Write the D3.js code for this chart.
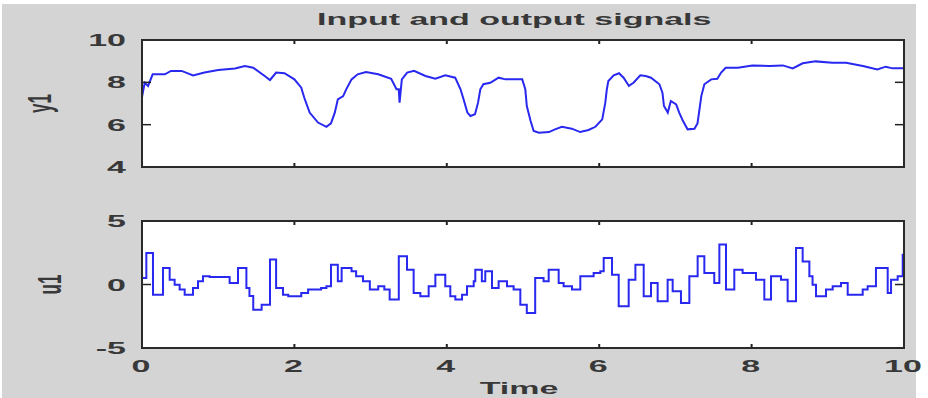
<!DOCTYPE html>
<html><head><meta charset="utf-8">
<script src="https://cdn.jsdelivr.net/npm/d3@7"></script>
<style>html,body{margin:0;padding:0;background:#fff;} svg{display:block;}</style>
</head><body><svg id="c" width="928" height="398"></svg>
<script>
// ---- data ----
const y1Time = [0,0.035,0.08,0.14,0.3,0.38,0.52,0.67,0.82,1.0,
  1.22,1.35,1.46,1.61,1.68,1.76,1.87,2.0,2.09,2.13,
  2.2,2.31,2.42,2.48,2.53,2.57,2.64,2.68,2.75,2.83,
  2.94,3.1,3.27,3.34,3.37,3.38,3.41,3.48,3.57,3.72,
  3.85,3.98,4.11,4.18,4.22,4.27,4.31,4.37,4.41,4.44,
  4.48,4.57,4.68,4.77,4.99,5.03,5.05,5.1,5.14,5.21,
  5.34,5.42,5.51,5.64,5.75,5.86,5.95,6.04,6.08,6.1,
  6.12,6.19,6.26,6.32,6.39,6.45,6.54,6.61,6.68,6.79,
  6.83,6.85,6.9,6.94,7.01,7.05,7.1,7.16,7.25,7.29,
  7.31,7.34,7.38,7.47,7.55,7.6,7.66,7.82,8.01,8.23,
  8.41,8.54,8.67,8.84,9.06,9.24,9.46,9.65,9.76,9.85,
  10.0];
const y1Values = [7.3,7.98,7.83,8.38,8.38,8.54,8.54,8.33,8.46,8.58,
  8.65,8.77,8.69,8.3,8.11,8.46,8.43,8.14,7.75,7.27,
  6.57,6.1,5.9,6.06,6.57,7.2,7.35,7.67,8.14,8.38,
  8.49,8.38,8.17,7.67,7.67,7.04,8.14,8.46,8.54,8.3,
  8.17,8.33,8.22,7.67,7.2,6.57,6.41,6.49,7.04,7.67,
  7.91,7.98,8.22,8.14,8.14,7.67,6.88,6.17,5.7,5.62,
  5.65,5.78,5.9,5.81,5.65,5.75,5.9,6.25,7.04,7.67,
  8.06,8.33,8.43,8.22,7.83,7.98,8.33,8.3,8.22,7.91,
  7.51,6.88,6.57,7.12,6.96,6.57,6.17,5.78,5.81,6.06,
  6.57,7.35,7.91,8.14,8.17,8.46,8.69,8.69,8.8,8.77,
  8.8,8.66,8.9,8.99,8.93,8.93,8.77,8.61,8.74,8.66,
  8.66];
const u1Time = [0,0.057,0.144,0.276,0.363,0.428,0.494,0.56,0.669,0.735,
  0.8,0.888,1.15,1.26,1.37,1.41,1.46,1.57,1.68,1.76,
  1.85,1.92,2.09,2.18,2.35,2.42,2.48,2.57,2.62,2.75,
  2.81,2.9,2.99,3.1,3.18,3.25,3.37,3.478,3.565,3.653,
  3.762,3.85,3.98,4.046,4.112,4.2,4.265,4.353,4.374,4.46,
  4.505,4.593,4.68,4.79,4.877,4.965,5.05,5.16,5.27,5.337,
  5.468,5.533,5.643,5.752,5.927,6.015,6.059,6.168,6.256,6.387,
  6.475,6.584,6.68,6.767,6.898,6.964,7.073,7.183,7.292,7.38,
  7.51,7.577,7.664,7.773,7.882,8.058,8.167,8.255,8.386,8.473,
  8.583,8.67,8.758,8.8,8.845,8.976,9.064,9.173,9.261,9.458,
  9.523,9.632,9.786,9.83,9.917,9.983,10.0];
const u1Values = [0.51,2.48,-0.8,1.3,0.38,-0.01,-0.4,-0.8,-0.28,0.25,
  0.64,0.6,0.12,1.3,-0.28,-0.9,-1.98,-1.6,1.96,-0.28,
  -0.8,-0.93,-0.67,-0.4,-0.28,-0.14,1.56,0.25,1.3,1.04,
  0.64,0.25,-0.4,-0.14,-0.4,-1.19,2.22,1.17,-0.67,-0.93,
  -0.14,0.77,-0.14,-0.93,-1.19,-0.8,-0.14,0.25,1.17,0.25,
  1.04,-0.28,0.25,-0.14,-0.4,-1.6,-2.24,0.51,0.25,1.17,
  0.12,-0.14,-0.4,0.64,0.9,1.04,2.09,0.77,-1.72,0.38,
  1.56,-0.93,0.12,-1.32,0.38,-0.54,-1.45,0.64,2.22,0.9,
  0.12,3.14,-0.4,1.17,0.9,0.38,-1.19,0.64,0.38,-1.32,
  2.87,1.82,0.64,-0.01,-0.93,-0.4,-0.14,0.12,-0.8,-0.4,
  -0.14,1.3,-0.67,0.38,0.64,2.35,2.35];
const xTicks = [0,2,4,6,8,10];
const y1Ticks = [4,6,8,10];
const u1Ticks = [-5,0,5];
const titleText = "Input and output signals";
const xLabelText = "Time";
const y1LabelText = "y1";
const u1LabelText = "u1";

// ---- drawing ----
const svg = d3.select("#c");
const FIG_BG = "#d4d4d4", INK = "#383838", LINE = "#2828f0";
svg.append("rect").attr("x",2).attr("y",4).attr("width",914).attr("height",394).attr("fill",FIG_BG);

const x = d3.scaleLinear().domain([0,10]).range([142,904]);
const yTop = d3.scaleLinear().domain([4,10]).range([167,40]);
const yBot = d3.scaleLinear().domain([-5,5]).range([348,221]);

function sText(g, px, py, str, anchor, rot, size) {
  return g.append("text")
    .attr("transform", `translate(${px},${py}) scale(2,1)` + (rot ? " rotate(-90)" : ""))
    .attr("text-anchor", anchor)
    .attr("font-family", "'Liberation Sans', Arial, sans-serif")
    .attr("font-weight", "bold")
    .attr("font-size", size || 17)
    .attr("fill", INK)
    .text(str);
}

function panel(yScale, yTicks, times, values, stepped, showXLabels, yLabel, yLabelX) {
  const g = svg.append("g");
  const [x0, x1] = x.range();
  const [yb, yt] = yScale.range();
  g.append("rect").attr("x", x0).attr("y", yt).attr("width", x1 - x0).attr("height", yb - yt).attr("fill", "#fff");
  const pts = times.map((t, i) => [t, values[i]]);
  const line = d3.line().x(d => x(d[0])).y(d => yScale(d[1]))
    .curve(stepped ? d3.curveStepAfter : d3.curveLinear);
  g.append("path").attr("d", line(pts)).attr("fill", "none").attr("stroke", LINE)
    .attr("stroke-width", 2).attr("stroke-linejoin", "miter");
  xTicks.forEach(t => {
    g.append("line").attr("x1", x(t)).attr("x2", x(t)).attr("y1", yt).attr("y2", yt + 4).attr("stroke", "#222").attr("stroke-width", 2);
    g.append("line").attr("x1", x(t)).attr("x2", x(t)).attr("y1", yb).attr("y2", yb - 4).attr("stroke", "#222").attr("stroke-width", 2);
    if (showXLabels) sText(svg, x(t) - 1, 372, String(t), "middle");
  });
  yTicks.forEach(v => {
    g.append("line").attr("x1", x0).attr("x2", x0 + 9).attr("y1", yScale(v)).attr("y2", yScale(v)).attr("stroke", "#222").attr("stroke-width", 1.5);
    g.append("line").attr("x1", x1).attr("x2", x1 - 9).attr("y1", yScale(v)).attr("y2", yScale(v)).attr("stroke", "#222").attr("stroke-width", 1.5);
    sText(svg, 126, yScale(v) + 6, String(v), "end");
  });
  g.append("rect").attr("x", x0).attr("y", yt).attr("width", x1 - x0).attr("height", yb - yt)
    .attr("fill", "none").attr("stroke", "#2a2a2a").attr("stroke-width", 2);
  sText(svg, yLabelX, (yt + yb) / 2, yLabel, "middle", true);
}

panel(yTop, y1Ticks, y1Time, y1Values, false, false, y1LabelText, 51);
panel(yBot, u1Ticks, u1Time, u1Values, true, true, u1LabelText, 61);

sText(svg, 317, 25, titleText, "start");
sText(svg, 519, 394, xLabelText, "middle", false, 17);
</script>
</body></html>
